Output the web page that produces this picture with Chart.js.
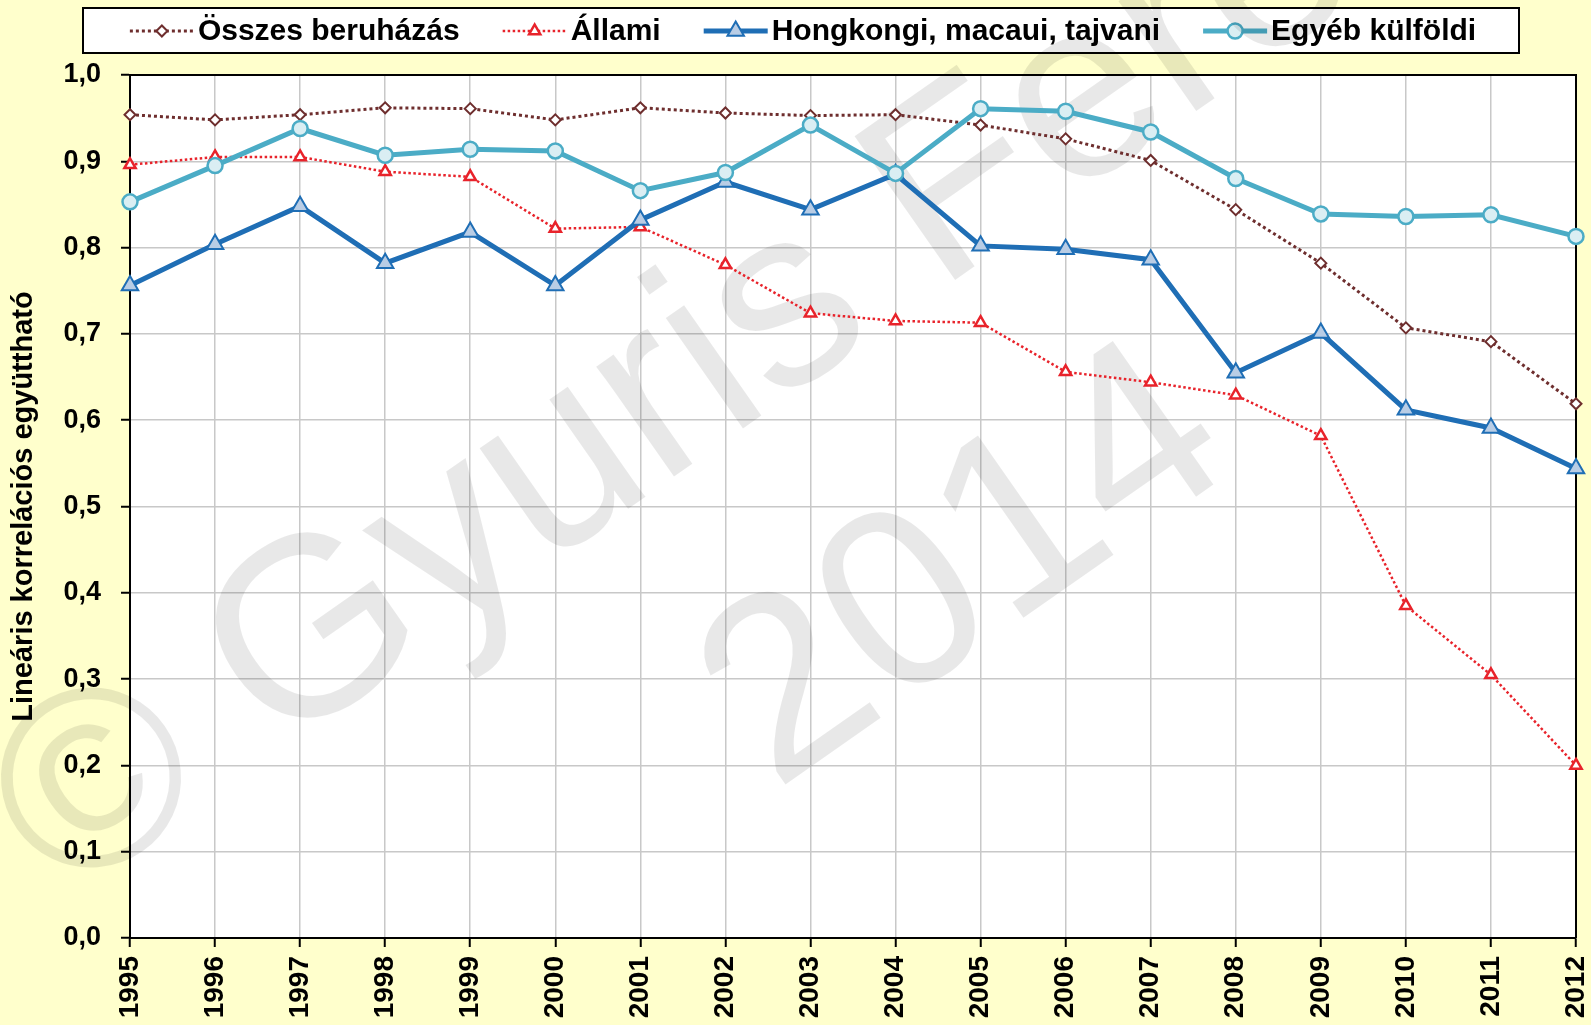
<!DOCTYPE html>
<html>
<head>
<meta charset="utf-8">
<script src="https://cdn.jsdelivr.net/npm/chart.js@4.4.1/dist/chart.umd.min.js"></script>
<style>
  html, body { margin: 0; padding: 0; background: #FFFFCC; }
  #wrap { width: 1591px; height: 1025px; }
  canvas { display: block; }
</style>
</head>
<body>
<div id="wrap"><canvas id="c" width="1591" height="1025"></canvas></div>
<script>
// ---- data ----
const years = ['1995','1996','1997','1998','1999','2000','2001','2002','2003','2004','2005','2006','2007','2008','2009','2010','2011','2012'];
const osszesBeruhazas = [0.954, 0.948, 0.954, 0.962, 0.961, 0.948, 0.962, 0.956, 0.953, 0.954, 0.942, 0.926, 0.901, 0.844, 0.782, 0.707, 0.691, 0.619];
const allami          = [0.896, 0.905, 0.905, 0.888, 0.882, 0.822, 0.824, 0.780, 0.724, 0.715, 0.713, 0.656, 0.644, 0.629, 0.582, 0.385, 0.305, 0.200];
const hongkongi       = [0.756, 0.804, 0.848, 0.782, 0.818, 0.756, 0.832, 0.876, 0.844, 0.885, 0.802, 0.798, 0.786, 0.655, 0.701, 0.612, 0.591, 0.544];
const egyebKulfoldi   = [0.853, 0.895, 0.938, 0.907, 0.914, 0.912, 0.866, 0.887, 0.942, 0.886, 0.961, 0.958, 0.934, 0.880, 0.839, 0.836, 0.838, 0.813];
const seriesNames = ['Összes beruházás', 'Állami', 'Hongkongi, macaui, tajvani', 'Egyéb külföldi'];
const yAxisTitle = 'Lineáris korrelációs együttható';
const watermarkLines = ['© Gyuris Ferenc', '2014'];

const FONT = '"Liberation Sans", Arial, Helvetica, sans-serif';

function drawMarker(ctx, style, x, y, r, fill, stroke, bw) {
  ctx.save();
  ctx.setLineDash([]);
  ctx.fillStyle = fill; ctx.strokeStyle = stroke; ctx.lineWidth = bw;
  ctx.beginPath();
  if (style === 'circle') {
    ctx.arc(x, y, r, 0, Math.PI * 2);
  } else if (style === 'triangle') {
    for (let i = 0; i < 3; i++) {
      const a = i * 2 * Math.PI / 3;
      const px = x + Math.sin(a) * r, py = y - Math.cos(a) * r;
      if (i === 0) ctx.moveTo(px, py); else ctx.lineTo(px, py);
    }
    ctx.closePath();
  } else if (style === 'rectRot') {
    ctx.moveTo(x - r, y); ctx.lineTo(x, y - r); ctx.lineTo(x + r, y); ctx.lineTo(x, y + r);
    ctx.closePath();
  }
  ctx.fill();
  ctx.stroke();
  ctx.restore();
}

const decorPlugin = {
  id: 'decor',
  beforeDraw(chart) {
    const { ctx, chartArea: a } = chart;
    ctx.save();
    ctx.fillStyle = '#FFFFCC';
    ctx.fillRect(0, 0, chart.width, chart.height);
    ctx.fillStyle = '#FFFFFF';
    ctx.fillRect(a.left, a.top, a.right - a.left, a.bottom - a.top);
    ctx.restore();
  },
  beforeDatasetsDraw(chart) {
    const { ctx, chartArea: a } = chart;
    ctx.save();
    // plot frame (top / right)
    ctx.strokeStyle = '#000'; ctx.lineWidth = 2;
    ctx.beginPath();
    ctx.moveTo(a.left, a.top); ctx.lineTo(a.right, a.top); ctx.lineTo(a.right, a.bottom);
    ctx.stroke();

    // legend box
    const boxL = 83, boxT = 8, boxR = 1519, boxB = 53;
    ctx.fillStyle = '#FFFFFF';
    ctx.fillRect(boxL, boxT, boxR - boxL, boxB - boxT);
    ctx.strokeStyle = '#000'; ctx.lineWidth = 2;
    ctx.strokeRect(boxL, boxT, boxR - boxL, boxB - boxT);

    ctx.font = 'bold 30px ' + FONT;
    const sampleW = 64, gapText = 4, itemGap = 43;
    const dss = chart.data.datasets;
    const widths = dss.map(ds => sampleW + gapText + ctx.measureText(ds.label).width);
    const total = widths.reduce((s, w) => s + w, 0) + itemGap * (dss.length - 1);
    let x = 803 - total / 2;
    const cy = 31;
    dss.forEach((ds, i) => {
      ctx.save();
      ctx.strokeStyle = ds.borderColor; ctx.lineWidth = ds.borderWidth;
      ctx.setLineDash(ds.borderDash || []);
      ctx.beginPath(); ctx.moveTo(x, cy); ctx.lineTo(x + sampleW, cy); ctx.stroke();
      ctx.restore();
      drawMarker(ctx, ds.pointStyle, x + sampleW / 2, cy, ds.pointRadius, ds.pointBackgroundColor, ds.pointBorderColor, ds.pointBorderWidth);
      ctx.fillStyle = '#000';
      ctx.textAlign = 'left'; ctx.textBaseline = 'middle';
      ctx.fillText(ds.label, x + sampleW + gapText, cy + 1);
      x += widths[i] + itemGap;
    });

    // watermark
    ctx.save();
    ctx.translate(48, 915);
    ctx.rotate(-35 * Math.PI / 180);
    ctx.font = '255px ' + FONT;
    ctx.fillStyle = 'rgba(0,0,0,0.09)';
    ctx.textAlign = 'center'; ctx.textBaseline = 'alphabetic';
    ctx.fillText(watermarkLines[0], 950, 0);
    ctx.fillText(watermarkLines[1], 950, 316);
    ctx.restore();
    ctx.restore();
  }
};

const datasets = [
  { label: seriesNames[0], data: osszesBeruhazas, borderColor: '#6E2E2E', borderWidth: 3, borderDash: [3, 3],
    pointStyle: 'rectRot', pointRadius: 5.5, pointBorderWidth: 2, pointBackgroundColor: '#FFFFFF', pointBorderColor: '#6E2E2E', order: 4 },
  { label: seriesNames[1], data: allami, borderColor: '#E8232B', borderWidth: 2.5, borderDash: [2.5, 2.5],
    pointStyle: 'triangle', pointRadius: 6.5, pointBorderWidth: 2.5, pointBackgroundColor: '#FFFFFF', pointBorderColor: '#E8232B', order: 3 },
  { label: seriesNames[2], data: hongkongi, borderColor: '#1F6EB5', borderWidth: 5,
    pointStyle: 'triangle', pointRadius: 9.5, pointBorderWidth: 2, pointBackgroundColor: '#B9CDE5', pointBorderColor: '#1F6EB5', order: 2 },
  { label: seriesNames[3], data: egyebKulfoldi, borderColor: '#4BACC6', borderWidth: 5,
    pointStyle: 'circle', pointRadius: 7.5, pointBorderWidth: 2.5, pointBackgroundColor: '#DAEEF3', pointBorderColor: '#4BACC6', order: 1 }
];
datasets.forEach(d => { d.fill = false; d.tension = 0; d.pointHoverRadius = d.pointRadius; });

new Chart(document.getElementById('c'), {
  type: 'line',
  data: { labels: years, datasets },
  plugins: [decorPlugin],
  options: {
    responsive: false,
    animation: false,
    devicePixelRatio: 1,
    layout: { padding: { top: 75, right: 15, left: 0, bottom: 0 } },
    plugins: { legend: { display: false }, tooltip: { enabled: false } },
    scales: {
      x: {
        offset: false,
        afterFit(scale) { scale.height = 87; scale.paddingLeft = 0; scale.paddingRight = 0; },
        grid: { color: '#C8C8C8', lineWidth: 1.5, tickColor: '#000', tickLength: 9, tickWidth: 2 },
        border: { color: '#000', width: 2 },
        ticks: { color: '#000', font: { family: FONT, size: 28, weight: 'bold' }, minRotation: 90, maxRotation: 90, padding: 9, autoSkip: false }
      },
      y: {
        min: 0, max: 1,
        afterFit(scale) { scale.width = 130; },
        grid: { color: '#C8C8C8', lineWidth: 1.5, tickColor: '#000', tickLength: 9, tickWidth: 2 },
        border: { color: '#000', width: 2 },
        ticks: { stepSize: 0.1, color: '#000', padding: 20, font: { family: FONT, size: 27, weight: 'bold' },
          callback: v => Number(v).toFixed(1).replace('.', ',') },
        title: { display: true, text: yAxisTitle, color: '#000', padding: { top: 7, bottom: 0 },
          font: { family: FONT, size: 29, weight: 'bold' } }
      }
    }
  }
});
</script>
</body>
</html>
